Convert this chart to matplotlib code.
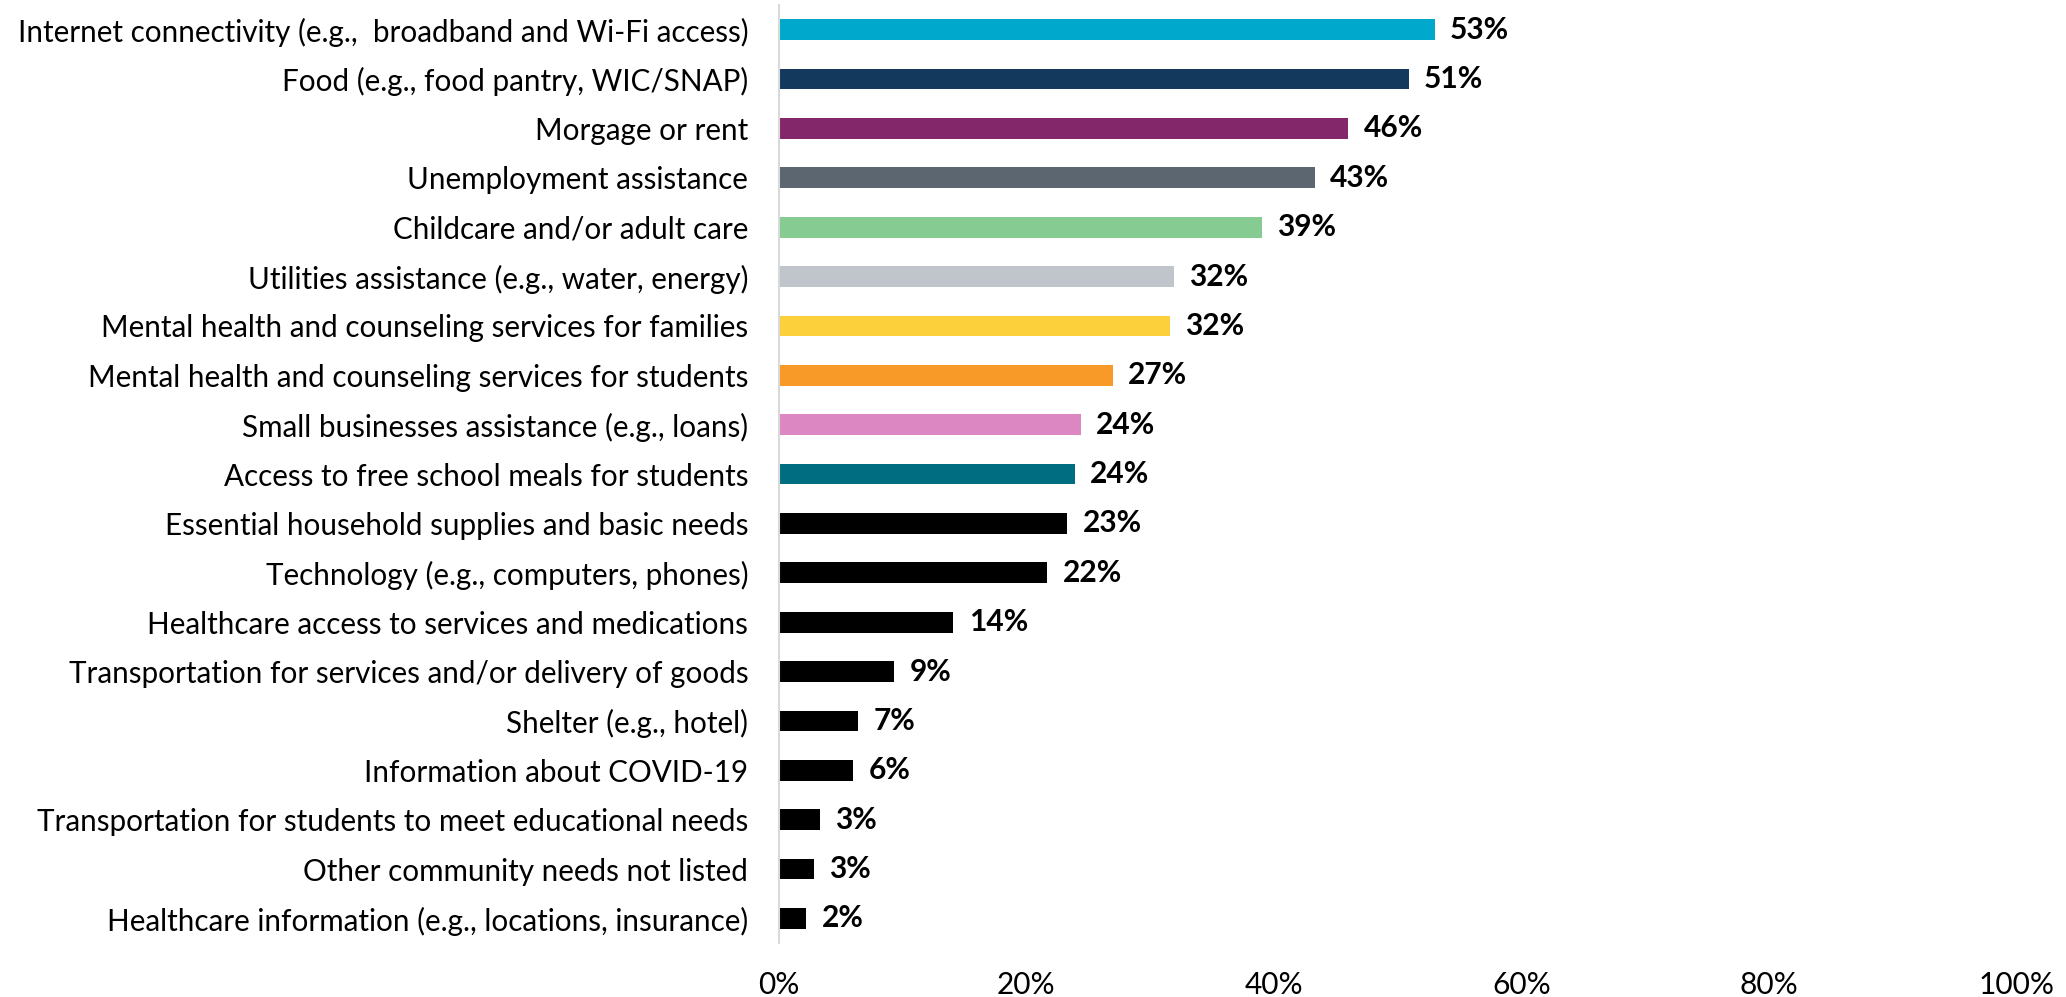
import matplotlib.pyplot as plt
from matplotlib.ticker import PercentFormatter

plt.rcParams['font.family'] = ['Lato', 'DejaVu Sans']

categories = [
    'Internet connectivity (e.g.,  broadband and Wi-Fi access)',
    'Food (e.g., food pantry, WIC/SNAP)',
    'Morgage or rent',
    'Unemployment assistance',
    'Childcare and/or adult care',
    'Utilities assistance (e.g., water, energy)',
    'Mental health and counseling services for families',
    'Mental health and counseling services for students',
    'Small businesses assistance (e.g., loans)',
    'Access to free school meals for students',
    'Essential household supplies and basic needs',
    'Technology (e.g., computers, phones)',
    'Healthcare access to services and medications',
    'Transportation for services and/or delivery of goods',
    'Shelter (e.g., hotel)',
    'Information about COVID-19',
    'Transportation for students to meet educational needs',
    'Other community needs not listed',
    'Healthcare information (e.g., locations, insurance)',
]
values = [53.0, 50.9, 46.0, 43.3, 39.0, 31.9, 31.6, 27.0, 24.4, 23.9,
          23.3, 21.7, 14.1, 9.3, 6.4, 6.0, 3.3, 2.8, 2.2]
value_labels = ['53%', '51%', '46%', '43%', '39%', '32%', '32%', '27%', '24%', '24%',
                '23%', '22%', '14%', '9%', '7%', '6%', '3%', '3%', '2%']
colors = ['#00A9CB', '#133A5C', '#83276A', '#5C6670', '#86CB92', '#BFC5CA',
          '#FCD03A', '#F79A27', '#DC87C2', '#006E80'] + ['#000000'] * 9

fig = plt.figure(figsize=(20.66, 9.97), dpi=100)
ax = fig.add_axes([0.377, 0.054, 0.599, 0.941])

y = range(len(categories))
bars = ax.barh(y, values, height=0.42, color=colors)
for b, lab in zip(bars, value_labels):
    ax.annotate(lab, (b.get_width(), b.get_y() + b.get_height() / 2),
                xytext=(11, 0), textcoords='offset points', va='center', ha='left',
                fontsize=21.5, fontweight='bold', color='black')

ax.set_ylim(len(categories) - 0.5, -0.5)
ax.set_xlim(0, 100)
ax.set_yticks(list(y))
ax.set_yticklabels(categories, fontsize=21.3)
ax.set_xticks([0, 20, 40, 60, 80, 100])
ax.xaxis.set_major_formatter(PercentFormatter(decimals=0))
ax.tick_params(axis='x', length=0, pad=20, labelsize=21.5)
ax.tick_params(axis='y', length=0, pad=22)

for s in ['top', 'right', 'bottom']:
    ax.spines[s].set_visible(False)
ax.spines['left'].set_color('#D9D9D9')
ax.spines['left'].set_linewidth(1.5)

fig.savefig('out.png', dpi=100)
